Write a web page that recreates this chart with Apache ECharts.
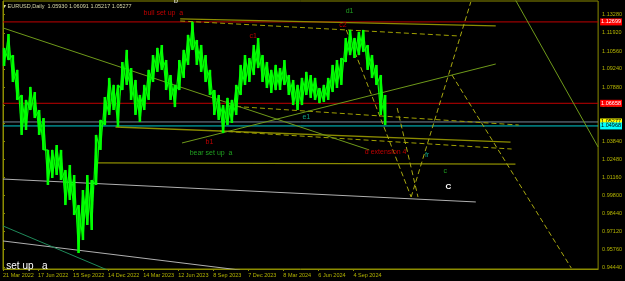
<!DOCTYPE html>
<html><head><meta charset="utf-8">
<script src="https://cdn.jsdelivr.net/npm/echarts@6/dist/echarts.min.js"></script>
<style>html,body{margin:0;padding:0;background:#000;}#c{width:625px;height:281px;}</style>
</head><body><div id="c"></div>
<script>
// ---- price data (daily bars, sampled every 8 bars: high / low) ----
const barStart = 2, barStep = 8;
const highs = [1.1080,1.1184,1.1027,1.0916,1.0729,1.0692,1.0789,1.0751,1.0617,1.0557,1.0319,1.0319,1.0356,1.0319,1.0169,1.0207,1.0132,0.9908,1.0020,1.0132,1.0095,1.0431,1.0543,1.0714,1.0856,1.0804,1.0804,1.0975,1.1065,1.0930,1.0841,1.0729,1.0804,1.0916,1.1027,1.1080,1.1102,1.0990,1.0878,1.0804,1.0990,1.1065,1.1177,1.1274,1.1139,1.1102,1.1027,1.0916,1.0766,1.0729,1.0654,1.0707,1.0692,1.0804,1.0953,1.1027,1.1005,1.1102,1.1154,1.1027,1.0975,1.0916,1.0953,1.0930,1.0990,1.0878,1.0841,1.0804,1.0856,1.0901,1.0878,1.0856,1.0781,1.0804,1.0856,1.0953,1.0990,1.1005,1.1154,1.1214,1.1154,1.1199,1.1214,1.1102,1.1027,1.0953,1.0878,1.0729];
const lows  = [1.0945,1.0990,1.0826,1.0692,1.0431,1.0468,1.0617,1.0557,1.0431,1.0319,1.0058,1.0110,1.0132,1.0095,0.9908,0.9946,0.9834,0.9550,0.9647,0.9759,0.9722,1.0058,1.0319,1.0505,1.0580,1.0617,1.0490,1.0766,1.0804,1.0692,1.0580,1.0528,1.0617,1.0692,1.0826,1.0901,1.0916,1.0766,1.0692,1.0639,1.0766,1.0856,1.0953,1.1065,1.0953,1.0901,1.0826,1.0729,1.0580,1.0543,1.0445,1.0505,1.0520,1.0580,1.0729,1.0804,1.0826,1.0878,1.0930,1.0826,1.0781,1.0744,1.0766,1.0766,1.0804,1.0729,1.0654,1.0617,1.0654,1.0729,1.0707,1.0692,1.0669,1.0677,1.0692,1.0751,1.0781,1.0804,1.0975,1.1027,1.1005,1.1027,1.1050,1.0916,1.0856,1.0804,1.0580,1.0505];

// ---- axes ----
const xTickIdx = [0,64,128,192,256,320,384,448,512,576,640];
const xTickLabels = ['21 Mar 2022','17 Jun 2022','15 Sep 2022','14 Dec 2022','14 Mar 2023','12 Jun 2023','8 Sep 2023','7 Dec 2023','8 Mar 2024','6 Jun 2024','4 Sep 2024'];
const yTicks = [1.13280,1.11920,1.10560,1.09240,1.07880,1.06520,1.05160,1.03840,1.02480,1.01160,0.99800,0.98440,0.97120,0.95760,0.94440];

// ---- horizontal levels ----
const levelPrices = [1.1274, 1.0667, 1.05277, 1.0498];
const levelTexts  = ['1.12699','1.06658','1.05277','1.04968'];

// ---- trend lines: [idx1, price1, idx2, price2] ----
const trendSolidOlive = [[323.6,1.1296,900,1.1244],[205.5,1.0490,927,1.0378],[172.7,1.0222,936,1.0214]];
const trendDashedOlive = [[323.6,1.1281,833,1.1169],[396,1.0460,929,1.0326],[411,1.0647,942,1.0505]];
const trendDrab = [[0,1.1229,669,1.0319],[327,1.0371,900,1.0960],[936,1.1438,1087,1.0341]];
const trendGray = [[0,1.0102,863.6,0.9931],[0,0.9640,433,0.9423]];
const trendSeaGreen = [[0,0.9752,191,0.9423]];
const trendProjection = [[627,1.1214,745.5,0.9968],[745.5,0.9968,854.5,1.1423],[720,1.0632,758,0.9968],[820,1.0878,1038,0.9438]];

// ---- annotations: [idx, price, text] ----
const notesRed = [[293,1.1341,'bull set up  a'],[457,1.1169,'c1'],[621,1.1251,'c2'],[377,1.0378,'b1'],[699,1.0300,'d extension 4']];
const notesGreen = [[633,1.1352,'d1'],[380,1.0293,'bear set up  a'],[808,1.0158,'c']];
const notesTeal = [[554,1.0565,'e1'],[774.5,1.0281,'fr']];
const notesWhite = [[43.6,0.9453,'set up   a',10,'normal'],[813.6,1.0043,'C',8,'bold'],[316,1.1426,'b',7,'normal']];

const FONT = 'Liberation Sans, Arial, sans-serif';
const X_MAX = 1087;
const chart = echarts.init(document.getElementById('c'), null, {renderer:'canvas'});

const barData = highs.map((h,i)=>[barStart+i*barStep, lows[i], h]);

function lineSeries(list, color, width, type){
  return list.map(s=>({type:'line', data:[[s[0],s[1]],[s[2],s[3]]], symbol:'none', silent:true, clip:true,
    lineStyle:{color:color, width:width, type:type}, z:3}));
}
function textSeries(list, color, size, weight){
  return {type:'custom', silent:true, clip:false, z:6, data:list.map(n=>[n[0],n[1]]),
    renderItem:(p,api)=>{const c=api.coord([api.value(0),api.value(1)]);const d=list[p.dataIndex];
      return {type:'text', x:c[0], y:c[1], style:{text:d[2], fill:color, font:(d[4]||weight)+' '+(d[3]||size)+'px '+FONT, align:'center', verticalAlign:'middle'}};}};
}

const levelColors = ['#c00000','#c00000','#778899','#00ced1'];
const levelBg = ['#ff0000','#ff0000','#ffff00','#00ffff'];
const levelFg = ['#ffffff','#ffffff','#000000','#000000'];

const series = [];
levelPrices.forEach((p,i)=>{
  series.push({type:'line', data:[[0,p],[X_MAX,p]], symbol:'none', silent:true, z:2,
    lineStyle:{color:levelColors[i], width:1, type:'solid'}});
});
series.push({type:'custom', silent:true, clip:false, z:7, data:levelPrices.map(p=>[X_MAX,p]),
  renderItem:(p,api)=>{const c=api.coord([api.value(0),api.value(1)]);const i=p.dataIndex;
    return {type:'text', x:c[0]+2, y:c[1], style:{text:levelTexts[i], fill:levelFg[i], backgroundColor:levelBg[i],
      padding:[1,1,0,1], font:'5.5px '+FONT, align:'left', verticalAlign:'middle'}};}});
series.push(...lineSeries(trendSolidOlive,'#8c8c00',1.3,'solid'));
series.push(...lineSeries(trendDashedOlive,'#a0a000',1,[5,3]));
series.push(...lineSeries(trendDrab,'#6f9a1a',1,'solid'));
series.push(...lineSeries(trendGray,'#b0b0b0',1,'solid'));
series.push(...lineSeries(trendSeaGreen,'#1f8a5a',1,'solid'));
series.push(...lineSeries(trendProjection,'#a8a810',1,[5,3]));
series.push({type:'custom', data:barData, z:4, silent:true,
  renderItem:(p,api)=>{
    const i=p.dataIndex;
    const a=api.coord([api.value(0),api.value(1)]);const b=api.coord([api.value(0),api.value(2)]);
    const children=[{type:'line', shape:{x1:a[0],y1:a[1],x2:b[0],y2:b[1]}, style:{stroke:'#00ff00', lineWidth:2.6}}];
    if(i<barData.length-1){
      const n=barData[i+1];
      const c=api.coord([n[0],n[1]]);const d=api.coord([n[0],n[2]]);
      children.push({type:'polyline', shape:{points:[b,c]}, style:{stroke:'#00ff00', lineWidth:1.2, fill:null}});
      children.push({type:'polyline', shape:{points:[a,d]}, style:{stroke:'#00ff00', lineWidth:1.2, fill:null}});
    }
    return {type:'group', children:children};}});
series.push(textSeries(notesRed,'#c00000',7,'normal'));
series.push(textSeries(notesGreen,'#20a020',7,'normal'));
series.push(textSeries(notesTeal,'#10a080',7,'normal'));
series.push(textSeries(notesWhite,'#ffffff',8,'normal'));

chart.setOption({
  animation:false, backgroundColor:'#000000',
  grid:{left:2, right:25, top:1, bottom:12, show:true, borderColor:'#8c8c00', borderWidth:1},
  xAxis:{type:'value', min:0, max:X_MAX, splitLine:{show:false},
    axisLine:{show:true, onZero:false, lineStyle:{color:'#8c8c00'}},
    axisTick:{show:true, customValues:xTickIdx, length:2, lineStyle:{color:'#8c8c00'}},
    axisLabel:{customValues:xTickIdx, formatter:v=>xTickLabels[xTickIdx.indexOf(v)], align:'left', color:'#b4b400', fontSize:5.5, fontFamily:FONT, margin:3}},
  yAxis:{type:'value', position:'right', min:0.9431, max:1.1430, scale:true, splitLine:{show:false},
    axisLine:{show:true, lineStyle:{color:'#8c8c00'}},
    axisTick:{show:true, customValues:yTicks, length:2, lineStyle:{color:'#8c8c00'}},
    axisLabel:{customValues:yTicks, formatter:v=>v.toFixed(5), color:'#b4b400', fontSize:5.5, fontFamily:FONT, margin:4}},
  graphic:[{type:'text', left:3, top:3, style:{text:'▾ EURUSD,Daily  1.05930 1.06091 1.05217 1.05277', fill:'#d8d8a8', font:'5.5px '+FONT}}],
  series:series
});
</script></body></html>
